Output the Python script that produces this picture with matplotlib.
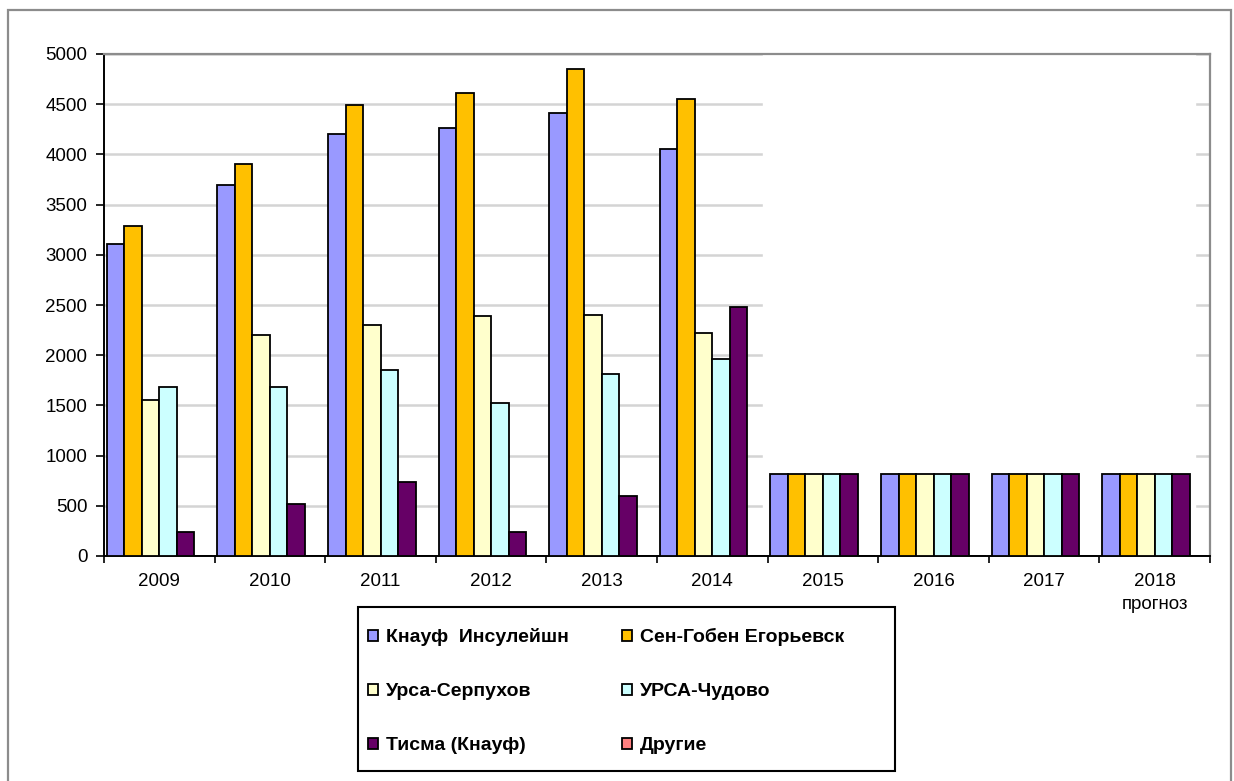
import numpy as np
import matplotlib
matplotlib.use("Agg")
import matplotlib.pyplot as plt
from matplotlib.patches import Rectangle

plt.rcParams['font.family'] = ['Liberation Sans', 'DejaVu Sans']

years = ["2009", "2010", "2011", "2012", "2013", "2014",
         "2015", "2016", "2017", "2018\nпрогноз"]
series = ["Кнауф  Инсулейшн", "Сен-Гобен Егорьевск", "Урса-Серпухов",
          "УРСА-Чудово", "Тисма (Кнауф)", "Другие"]

knauf = [3110, 3700, 4200, 4260, 4410, 4050, 820, 820, 820, 820]
saint_gobain = [3290, 3900, 4490, 4610, 4850, 4550, 820, 820, 820, 820]
ursa_serp = [1550, 2200, 2300, 2390, 2400, 2220, 820, 820, 820, 820]
ursa_chud = [1680, 1680, 1850, 1520, 1810, 1960, 820, 820, 820, 820]
tisma = [240, 520, 740, 240, 600, 2480, 820, 820, 820, 820]
other = [0, 0, 0, 0, 0, 0, 0, 0, 0, 0]

values = [knauf, saint_gobain, ursa_serp, ursa_chud, tisma, other]
colors = ["#9999FF", "#FFC000", "#FFFFCC", "#CCFFFF", "#660066", "#FF8080"]

W, H = 1234, 781
fig = plt.figure(figsize=(W / 100, H / 100), dpi=100)
ax = fig.add_axes([104 / W, 1 - 556 / H, 1106 / W, 502 / H])

# outer chart frame
fig.patches.append(Rectangle((8 / W, -0.05), 1223 / W, 1.05 - 10 / H,
                             transform=fig.transFigure, fill=False,
                             edgecolor="#8c8c8c", linewidth=1.6))
# legend frame (drawn separately so it can be sized like the original)
fig.patches.append(Rectangle((358 / W, 1 - 771 / H), 537 / W, 164 / H,
                             transform=fig.transFigure, fill=False,
                             edgecolor="black", linewidth=1.5))

x = np.arange(len(years))
n = len(series)
gap = 0.32
w = 1.0 / (n + gap)
handles = []
for i, (name, vals, col) in enumerate(zip(series, values, colors)):
    off = -0.5 + gap * w / 2 + w * (i + 0.5)
    b = ax.bar(x + off, vals, width=w, color=col, edgecolor="black",
               linewidth=1.3, label=name, zorder=3)
    handles.append(b)

ax.set_xlim(-0.5, len(years) - 0.5)
ax.set_ylim(0, 5000)
ax.set_yticks(np.arange(0, 5001, 500))
ax.yaxis.grid(True, color="#d4d4d4", linewidth=1.8, zorder=0)
ax.set_axisbelow(True)
# blank area over the forecast years (gridlines hidden there)
ax.axvspan(5.46, 9.36, color="white", zorder=1)

ax.set_xticks(np.arange(-0.5, len(years), 1.0))
ax.set_xticklabels([])
ax.set_xticks(x, minor=True)
ax.set_xticklabels(years, minor=True, fontsize=13.5, linespacing=1.45,
                   va="top")
ax.tick_params(axis="x", which="major", length=5, width=1.2, direction="out")
ax.tick_params(axis="x", which="minor", length=0, pad=12)
ax.tick_params(axis="y", length=6, width=1.2, direction="out", pad=6,
               labelsize=13.5)

for s in ["left", "bottom"]:
    ax.spines[s].set_color("black")
    ax.spines[s].set_linewidth(1.4)
for s in ["top", "right"]:
    ax.spines[s].set_color("#8c8c8c")
    ax.spines[s].set_linewidth(1.6)

# legend rows go in pairs, like the original
order = [0, 2, 4, 1, 3, 5]
leg = fig.legend([handles[k] for k in order], [series[k] for k in order],
                 loc="upper left", bbox_to_anchor=(368 / W, 1 - 628 / H),
                 ncols=2, frameon=False,
                 handlelength=0.5, handleheight=0.5, handletextpad=0.45,
                 labelspacing=1.9, columnspacing=2.7, borderaxespad=0,
                 borderpad=0, prop={"weight": "bold", "size": 14})

fig.savefig("out.png", dpi=100)
